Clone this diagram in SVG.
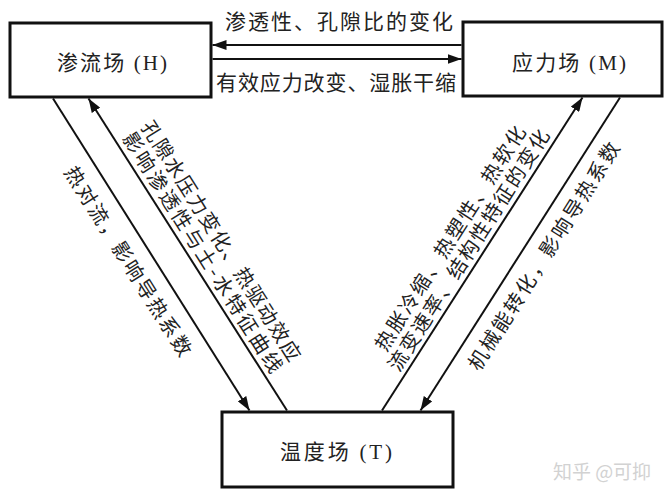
<svg xmlns="http://www.w3.org/2000/svg" width="672" height="499" viewBox="0 0 672 499">
<defs>
<style>
.box{fill:#fff;stroke:#111;stroke-width:3}
.lab{font-family:"Liberation Serif","Noto Sans CJK SC",serif;font-size:21px;fill:#222;text-anchor:middle;dominant-baseline:central}
.txt{font-family:"Noto Sans CJK SC",sans-serif;font-size:20px;fill:#222;text-anchor:middle;dominant-baseline:central}
.top{font-size:21px}
.con{stroke:#111;stroke-width:2;fill:none;marker-end:url(#ah)}
.wm{font-family:"Noto Sans CJK SC",sans-serif;font-size:19px;fill:#d2d2d2;text-anchor:middle;dominant-baseline:central}
</style>
<marker id="ah" viewBox="0 0 14 10" refX="14" refY="5" markerWidth="14" markerHeight="10" markerUnits="userSpaceOnUse" orient="auto">
<path d="M0,0 L14,5 L0,10 Z" fill="#111"/>
</marker>
</defs>
<rect width="672" height="499" fill="#fff"/>
<g id="connectors">
<line class="con" x1="461.5" y1="45" x2="212.5" y2="45"/>
<line class="con" x1="212.5" y1="59" x2="461.5" y2="59"/>
<line class="con" x1="53" y1="98.5" x2="249.5" y2="410.5"/>
<line class="con" x1="287" y1="410.5" x2="88.5" y2="98.5"/>
<line class="con" x1="382" y1="410.5" x2="582.5" y2="97.5"/>
<line class="con" x1="620" y1="97.5" x2="420.5" y2="410.5"/>
<text class="txt top" x="339" y="20" textLength="228" lengthAdjust="spacing">渗透性、孔隙比的变化</text>
<text class="txt top" x="336" y="81" textLength="240" lengthAdjust="spacing">有效应力改变、湿胀干缩</text>
<text class="txt" transform="translate(129.2,260.5) rotate(57.8)" textLength="220" lengthAdjust="spacing">热对流，影响导热系数</text>
<text class="txt" transform="translate(222.3,240.2) rotate(57.7)" textLength="280" lengthAdjust="spacing">孔隙水压力变化、热驱动效应</text>
<text class="txt" transform="translate(203.7,251.9) rotate(57.7)" textLength="280" lengthAdjust="spacing">影响渗透性与土-水特征曲线</text>
<text class="txt" transform="translate(449.1,237.6) rotate(-57.5)" textLength="262" lengthAdjust="spacing">热胀冷缩、热塑性、热软化</text>
<text class="txt" transform="translate(467.6,249.4) rotate(-57.5)" textLength="282" lengthAdjust="spacing">流变速率、结构性特征的变化</text>
<text class="txt" transform="translate(542.8,255.4) rotate(-57.7)" textLength="265" lengthAdjust="spacing">机械能转化，影响导热系数</text>
</g>
<g id="node-H">
<rect class="box" x="10" y="23" width="201" height="74"/>
<text class="lab" x="112" y="63" textLength="110" lengthAdjust="spacing">渗流场 (H)</text>
</g>
<g id="node-M">
<rect class="box" x="463" y="22" width="199" height="74"/>
<text class="lab" x="569" y="63" textLength="114" lengthAdjust="spacing">应力场 (M)</text>
</g>
<g id="node-T">
<rect class="box" x="222" y="412" width="231" height="75"/>
<text class="lab" x="336" y="452" textLength="112" lengthAdjust="spacing">温度场 (T)</text>
</g>
<text class="wm" x="602" y="470">知乎 @可抑</text>
</svg>
